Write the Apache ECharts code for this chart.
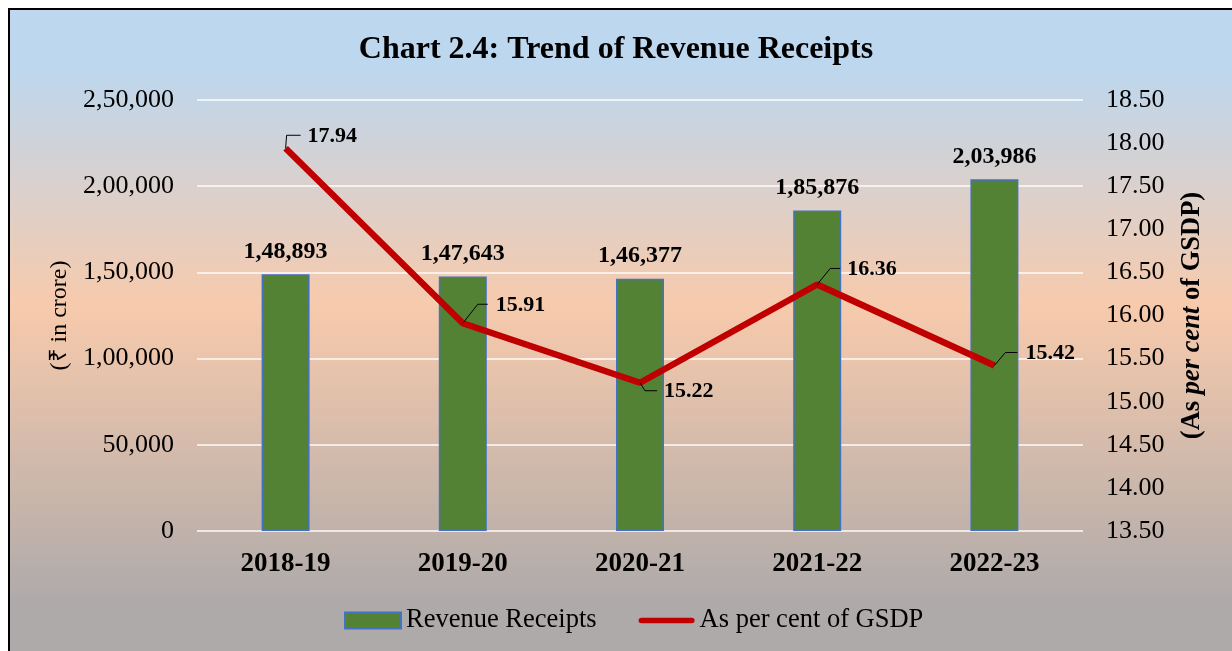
<!DOCTYPE html>
<html>
<head>
<meta charset="utf-8">
<script src="https://cdn.jsdelivr.net/npm/echarts@6/dist/echarts.min.js"></script>
<style>
  html, body { margin: 0; padding: 0; background: #fff; }
  #main { width: 1232px; height: 651px; }
</style>
</head>
<body>
<div id="main"></div>
<script>
// 数据
var categories = ['2018-19', '2019-20', '2020-21', '2021-22', '2022-23'];
var revenueReceipts = [148893, 147643, 146377, 185876, 203986];
var percentOfGSDP = [17.94, 15.91, 15.22, 16.36, 15.42];

// 折线标签的引导线偏移 [dx1, dy1, dx2, 文字x]
var labelOffsets = [
    [1, -13, 15, 22],
    [15, -19, 25, 33],
    [5, 8, 17, 24],
    [13, -16, 23, 30],
    [11, -13, 23, 31]
];

var serif = '"Liberation Serif", "Times New Roman", serif';

// 印度计数法 1,48,893
function inr(v) {
    var s = String(Math.round(v));
    if (s.length <= 3) return s;
    var last3 = s.slice(-3), rest = s.slice(0, -3);
    rest = rest.replace(/\B(?=(\d{2})+(?!\d))/g, ',');
    return rest + ',' + last3;
}

var myChart = echarts.init(document.getElementById('main'));

var option = {
    textStyle: { fontFamily: serif },
    graphic: [{
        type: 'rect',
        z: -10,
        silent: true,
        shape: { x: 9, y: 9, width: 1240, height: 660 },
        style: {
            fill: new echarts.graphic.LinearGradient(0, 0, 0, 1, [
                { offset: 0, color: '#BDD7EE' },
                { offset: 0.09, color: '#BDD7EE' },
                { offset: 0.45, color: '#F7CAAC' },
                { offset: 0.9, color: '#AEAAAA' },
                { offset: 1, color: '#AEAAAA' }
            ]),
            stroke: '#000',
            lineWidth: 2
        }
    }],
    title: {
        text: 'Chart 2.4: Trend of Revenue Receipts',
        left: 'center',
        top: 29,
        textStyle: { fontFamily: serif, fontSize: 32, fontWeight: 'bold', color: '#000' }
    },
    legend: {
        top: 602,
        left: 339,
        itemWidth: 56,
        itemHeight: 16,
        itemGap: 42,
        textStyle: { fontFamily: serif, fontSize: 26.5, color: '#000' },
        data: [
            { name: 'Revenue Receipts', icon: 'rect' },
            { name: 'As per cent of GSDP', icon: 'path://M3,0 H57 A3,3 0 0 1 57,6 H3 A3,3 0 0 1 3,0 Z' }
        ]
    },
    grid: { left: 197, right: 149, top: 100, bottom: 120 },
    xAxis: {
        type: 'category',
        data: categories,
        axisLine: { show: false },
        axisTick: { show: false },
        axisLabel: { margin: 20, fontFamily: serif, fontSize: 27, fontWeight: 'bold', color: '#000' }
    },
    yAxis: [{
        type: 'value',
        min: 0,
        max: 250000,
        interval: 50000,
        name: '(₹ in crore)',
        nameLocation: 'middle',
        nameRotate: 90,
        nameGap: 125,
        nameTextStyle: { fontFamily: serif, fontSize: 24, color: '#000' },
        axisLine: { show: false },
        axisTick: { show: false },
        axisLabel: { margin: 23, fontFamily: serif, fontSize: 26, color: '#000', formatter: inr },
        splitLine: { lineStyle: { color: 'rgba(255,255,255,0.7)', width: 2 } }
    }, {
        type: 'value',
        min: 13.5,
        max: 18.5,
        interval: 0.5,
        name: '{b|(As }{i|per cent}{b| of GSDP)}',
        nameLocation: 'middle',
        nameRotate: 90,
        nameGap: 96,
        nameTextStyle: {
            rich: {
                b: { fontFamily: serif, fontSize: 26.5, fontWeight: 'bold', color: '#000' },
                i: { fontFamily: serif, fontSize: 26.5, fontWeight: 'bold', fontStyle: 'italic', color: '#000' }
            }
        },
        axisLine: { show: false },
        axisTick: { show: false },
        axisLabel: {
            margin: 23, fontFamily: serif, fontSize: 26, color: '#000',
            formatter: function (v) { return v.toFixed(2); }
        },
        splitLine: { show: false }
    }],
    series: [{
        name: 'Revenue Receipts',
        type: 'bar',
        data: revenueReceipts,
        barWidth: 48,
        itemStyle: { color: '#548235', borderColor: '#4472C4', borderWidth: 1.5 },
        label: {
            show: true,
            position: 'top',
            distance: 11,
            fontFamily: serif,
            fontSize: 24,
            fontWeight: 'bold',
            color: '#000',
            formatter: function (p) { return inr(p.value); }
        }
    }, {
        name: 'As per cent of GSDP',
        type: 'line',
        yAxisIndex: 1,
        data: percentOfGSDP,
        symbol: 'none',
        z: 5,
        lineStyle: { color: '#C00000', width: 6.5 },
        itemStyle: { color: '#C00000' }
    }, {
        // 折线数据标签 + 引导线
        type: 'custom',
        yAxisIndex: 1,
        z: 6,
        silent: true,
        data: percentOfGSDP.map(function (v, i) { return [i, v]; }),
        renderItem: function (params, api) {
            var pt = api.coord([api.value(0), api.value(1)]);
            var o = labelOffsets[params.dataIndex];
            return {
                type: 'group',
                children: [{
                    type: 'polyline',
                    shape: { points: [[pt[0], pt[1]], [pt[0] + o[0], pt[1] + o[1]], [pt[0] + o[2], pt[1] + o[1]]] },
                    style: { stroke: '#000', lineWidth: 1, fill: null }
                }, {
                    type: 'text',
                    x: pt[0] + o[3],
                    y: pt[1] + o[1] + 1,
                    style: {
                        text: api.value(1).toFixed(2),
                        fontFamily: serif,
                        fontSize: 22,
                        fontWeight: 'bold',
                        fill: '#000',
                        verticalAlign: 'middle',
                        align: 'left'
                    }
                }]
            };
        }
    }]
};

myChart.setOption(option);
</script>
</body>
</html>
